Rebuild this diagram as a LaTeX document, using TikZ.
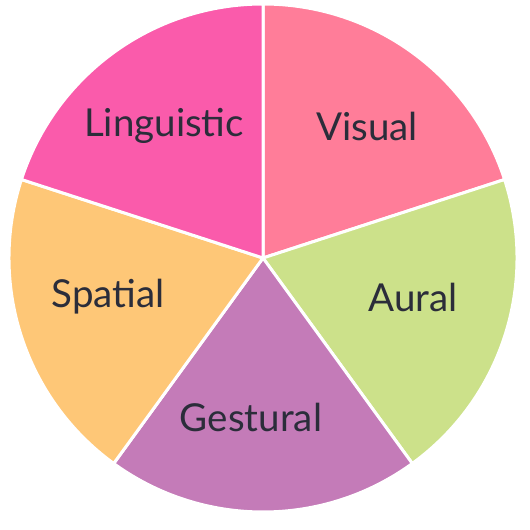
\documentclass[tikz,border=0pt]{standalone}
\usepackage{fontspec}
\setmainfont{Lato}
\definecolor{visualc}{HTML}{FF7D99}
\definecolor{auralc}{HTML}{CCE18A}
\definecolor{gesturalc}{HTML}{C47BB8}
\definecolor{spatialc}{HTML}{FEC777}
\definecolor{linguisticc}{HTML}{FA5BAB}
\definecolor{labelc}{HTML}{2B2D3A}
\tikzset{sector/.style={draw=white,line width=3pt,line join=round},
	label/.style={text=labelc,font=\fontsize{38.5}{44}\selectfont,inner sep=0}}
\begin{document}
\begin{tikzpicture}[x=1pt,y=1pt]
	\useasboundingbox (0,0) rectangle (530,530);
	\coordinate (o) at (263,272);
	\fill [visualc,sector] (o) -- ++(90:254) arc (90:18:254) -- cycle;
	\fill [auralc,sector] (o) -- ++(18:254) arc (18:-54:254) -- cycle;
	\fill [gesturalc,sector] (o) -- ++(-54:254) arc (-54:-126:254) -- cycle;
	\fill [spatialc,sector] (o) -- ++(-126:254) arc (-126:-198:254) -- cycle;
	\fill [linguisticc,sector] (o) -- ++(162:254) arc (162:90:254) -- cycle;
	
	\node [label] at (367,404) (vis) {Visual};
	\node [label] at (413,233) (aur) {Aural};
	\node [label] at (251,113) (ges) {Gestural};
	\node [label] at (108,233) (spa) {Spatial};
	\node [label] at (164,404) (lin) {Linguistic};
\end{tikzpicture}
\end{document}
